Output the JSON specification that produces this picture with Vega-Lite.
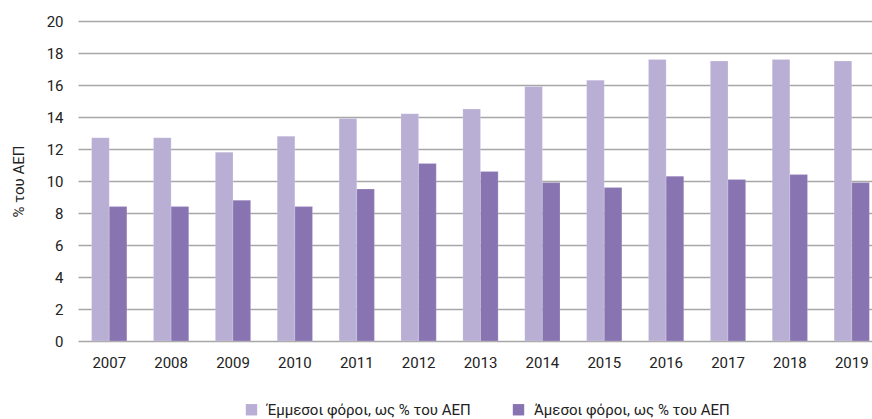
{
  "$schema": "https://vega.github.io/schema/vega-lite/v6.json",
  "autosize": {"type": "none"},
  "width": 805,
  "height": 320,
  "padding": {"left": 78, "top": 21, "right": 0, "bottom": 78},
  "background": "white",
  "config": {
    "font": "Roboto",
    "view": {"stroke": null}
  },
  "data": {
    "values": [
      {"year": "2007", "series": "Έμμεσοι φόροι, ως % του ΑΕΠ", "value": 12.7},
      {"year": "2007", "series": "Άμεσοι φόροι, ως % του ΑΕΠ", "value": 8.4},
      {"year": "2008", "series": "Έμμεσοι φόροι, ως % του ΑΕΠ", "value": 12.7},
      {"year": "2008", "series": "Άμεσοι φόροι, ως % του ΑΕΠ", "value": 8.4},
      {"year": "2009", "series": "Έμμεσοι φόροι, ως % του ΑΕΠ", "value": 11.8},
      {"year": "2009", "series": "Άμεσοι φόροι, ως % του ΑΕΠ", "value": 8.8},
      {"year": "2010", "series": "Έμμεσοι φόροι, ως % του ΑΕΠ", "value": 12.8},
      {"year": "2010", "series": "Άμεσοι φόροι, ως % του ΑΕΠ", "value": 8.4},
      {"year": "2011", "series": "Έμμεσοι φόροι, ως % του ΑΕΠ", "value": 13.9},
      {"year": "2011", "series": "Άμεσοι φόροι, ως % του ΑΕΠ", "value": 9.5},
      {"year": "2012", "series": "Έμμεσοι φόροι, ως % του ΑΕΠ", "value": 14.2},
      {"year": "2012", "series": "Άμεσοι φόροι, ως % του ΑΕΠ", "value": 11.1},
      {"year": "2013", "series": "Έμμεσοι φόροι, ως % του ΑΕΠ", "value": 14.5},
      {"year": "2013", "series": "Άμεσοι φόροι, ως % του ΑΕΠ", "value": 10.6},
      {"year": "2014", "series": "Έμμεσοι φόροι, ως % του ΑΕΠ", "value": 15.9},
      {"year": "2014", "series": "Άμεσοι φόροι, ως % του ΑΕΠ", "value": 9.9},
      {"year": "2015", "series": "Έμμεσοι φόροι, ως % του ΑΕΠ", "value": 16.3},
      {"year": "2015", "series": "Άμεσοι φόροι, ως % του ΑΕΠ", "value": 9.6},
      {"year": "2016", "series": "Έμμεσοι φόροι, ως % του ΑΕΠ", "value": 17.6},
      {"year": "2016", "series": "Άμεσοι φόροι, ως % του ΑΕΠ", "value": 10.3},
      {"year": "2017", "series": "Έμμεσοι φόροι, ως % του ΑΕΠ", "value": 17.5},
      {"year": "2017", "series": "Άμεσοι φόροι, ως % του ΑΕΠ", "value": 10.1},
      {"year": "2018", "series": "Έμμεσοι φόροι, ως % του ΑΕΠ", "value": 17.6},
      {"year": "2018", "series": "Άμεσοι φόροι, ως % του ΑΕΠ", "value": 10.4},
      {"year": "2019", "series": "Έμμεσοι φόροι, ως % του ΑΕΠ", "value": 17.5},
      {"year": "2019", "series": "Άμεσοι φόροι, ως % του ΑΕΠ", "value": 9.9}
    ]
  },
  "mark": {"type": "bar", "stroke": "#ffffff", "strokeOpacity": 0.35, "strokeWidth": 0.5},
  "encoding": {
    "x": {
      "field": "year",
      "type": "nominal",
      "title": null,
      "scale": {"paddingInner": 0.43, "paddingOuter": 0.22},
      "axis": {
        "labelAngle": 0,
        "labelFontSize": 15,
        "labelColor": "#222222",
        "labelPadding": 14,
        "ticks": false,
        "domain": false,
        "grid": false
      }
    },
    "xOffset": {
      "field": "series",
      "type": "nominal",
      "sort": ["Έμμεσοι φόροι, ως % του ΑΕΠ", "Άμεσοι φόροι, ως % του ΑΕΠ"]
    },
    "y": {
      "field": "value",
      "type": "quantitative",
      "title": "% του ΑΕΠ",
      "scale": {"domain": [0, 20], "nice": false},
      "axis": {
        "values": [0, 2, 4, 6, 8, 10, 12, 14, 16, 18, 20],
        "labelFontSize": 15,
        "labelColor": "#222222",
        "labelPadding": 15,
        "ticks": false,
        "domain": false,
        "grid": true,
        "gridColor": "#a6a6a6",
        "gridWidth": 1.5,
        "titleFontSize": 15,
        "titleFontWeight": "normal",
        "titleColor": "#222222",
        "titlePadding": 20
      }
    },
    "color": {
      "field": "series",
      "type": "nominal",
      "title": null,
      "sort": ["Έμμεσοι φόροι, ως % του ΑΕΠ", "Άμεσοι φόροι, ως % του ΑΕΠ"],
      "scale": {
        "domain": ["Έμμεσοι φόροι, ως % του ΑΕΠ", "Άμεσοι φόροι, ως % του ΑΕΠ"],
        "range": ["#b9aed4", "#8974b2"]
      },
      "legend": {
        "orient": "none",
        "legendX": 166,
        "legendY": 381,
        "direction": "horizontal",
        "symbolType": "square",
        "symbolSize": 130,
        "symbolStrokeWidth": 0,
        "labelFontSize": 15,
        "labelColor": "#222222",
        "labelLimit": 400,
        "columnPadding": 40,
        "labelOffset": 8
      }
    }
  }
}
